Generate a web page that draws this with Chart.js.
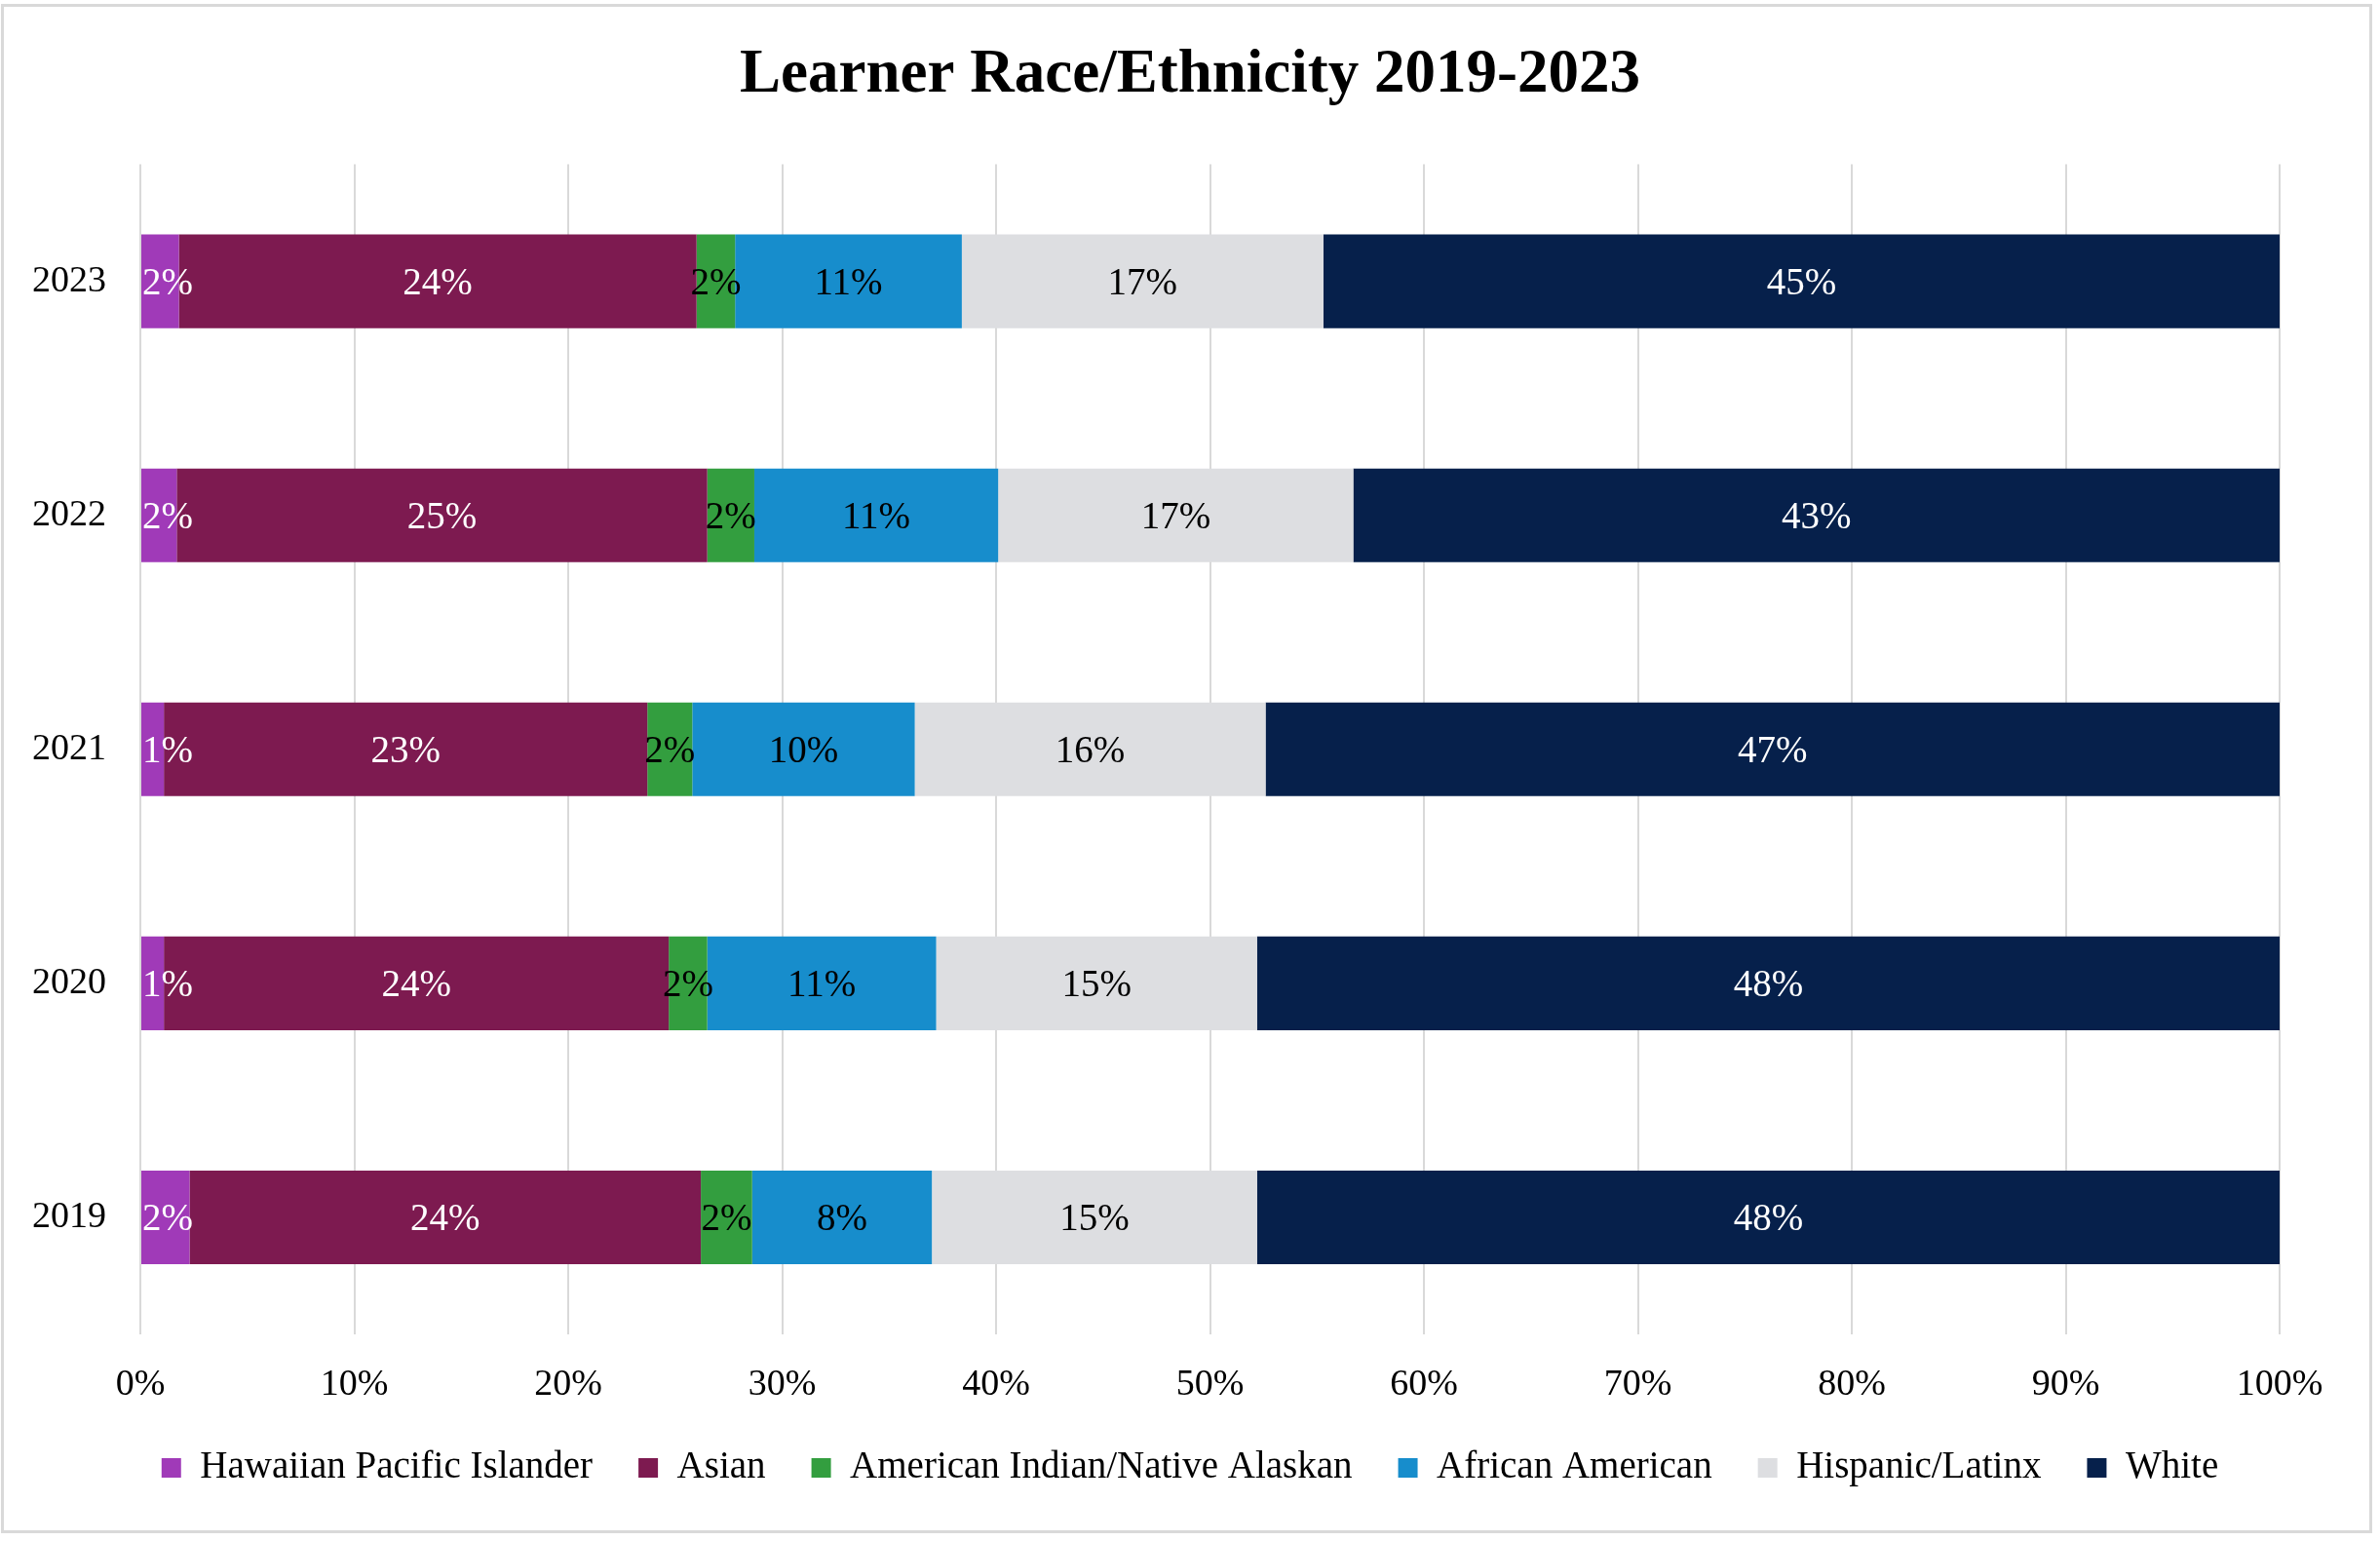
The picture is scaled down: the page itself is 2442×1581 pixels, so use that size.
<!DOCTYPE html>
<html>
<head>
<meta charset="utf-8">
<script src="https://cdn.jsdelivr.net/npm/chart.js@4/dist/chart.umd.min.js"></script>
<style>
  html, body { margin: 0; padding: 0; background: #ffffff; }
  #wrap { position: relative; width: 2442px; height: 1581px; }
  #frame { position: absolute; left: 1px; top: 4px; width: 2433px; height: 1569px; box-sizing: border-box; border: 3px solid #d9d9d9; pointer-events: none; }
</style>
</head>
<body>
<div id="wrap">
  <canvas id="c" width="2442" height="1581"></canvas>
  <div id="frame"></div>
</div>
<script>
const years = ['2023', '2022', '2021', '2020', '2019'];
const hawaiianPacificIslander = [1.8, 1.7, 1.1, 1.1, 2.3];
const asian = [24.2, 24.8, 22.6, 23.6, 23.9];
const americanIndian = [1.8, 2.2, 2.1, 1.8, 2.4];
const africanAmerican = [10.6, 11.4, 10.4, 10.7, 8.4];
const hispanicLatinx = [16.9, 16.6, 16.4, 15.0, 15.2];
const white = [44.7, 43.3, 47.4, 47.8, 47.8];
const xTicks = [0, 10, 20, 30, 40, 50, 60, 70, 80, 90, 100];

const seriesNames = ['Hawaiian Pacific Islander', 'Asian', 'American Indian/Native Alaskan', 'African American', 'Hispanic/Latinx', 'White'];
const seriesData = [hawaiianPacificIslander, asian, americanIndian, africanAmerican, hispanicLatinx, white];
const seriesColors = ['#a03ab8', '#7d1a50', '#339e3f', '#178dcc', '#dddee1', '#06204b'];
const labelColors = ['#ffffff', '#ffffff', '#000000', '#000000', '#000000', '#ffffff'];

const FONT = '"Liberation Serif", "Times New Roman", serif';

const barLabels = {
  id: 'barLabels',
  afterDatasetsDraw(chart) {
    const ctx = chart.ctx;
    const left = chart.chartArea.left;
    ctx.save();
    ctx.font = '39px ' + FONT;
    ctx.textAlign = 'center';
    ctx.textBaseline = 'middle';
    chart.data.datasets.forEach((ds, di) => {
      const meta = chart.getDatasetMeta(di);
      meta.data.forEach((el, i) => {
        const txt = Math.round(ds.data[i]) + '%';
        const w = ctx.measureText(txt).width;
        let cx = (el.x + el.base) / 2;
        cx = Math.max(cx, left + w / 2 + 2);
        ctx.fillStyle = labelColors[di];
        ctx.fillText(txt, cx, el.y + 3);
      });
    });
    ctx.restore();
  }
};

new Chart(document.getElementById('c'), {
  type: 'bar',
  data: {
    labels: years,
    datasets: seriesNames.map((n, i) => ({
      label: n,
      data: seriesData[i],
      backgroundColor: seriesColors[i],
      borderWidth: 0,
      categoryPercentage: 1,
      barPercentage: 0.4
    }))
  },
  options: {
    indexAxis: 'y',
    responsive: false,
    animation: false,
    devicePixelRatio: 1,
    layout: { padding: { left: 0, right: 0, top: 0, bottom: 45.5 } },
    scales: {
      x: {
        stacked: true,
        min: 0,
        max: 100,
        afterBuildTicks(scale) { scale.ticks = xTicks.map(v => ({ value: v })); },
        afterFit(scale) { scale.height = 70.5; },
        grid: { color: '#d9d9d9', lineWidth: 2, drawTicks: false },
        border: { display: false },
        ticks: { color: '#000', font: { family: FONT, size: 38 }, padding: 29, callback: v => v + '%' }
      },
      y: {
        stacked: true,
        afterFit(scale) { scale.width = 144; },
        grid: { display: false, drawTicks: false },
        border: { display: false },
        ticks: { color: '#000', font: { family: FONT, size: 38 }, padding: 35 }
      },
      yRightSpace: {
        type: 'category',
        labels: years,
        position: 'right',
        afterFit(scale) { scale.width = 103; },
        grid: { display: false, drawTicks: false },
        border: { display: false },
        ticks: { display: false }
      }
    },
    plugins: {
      title: {
        display: true,
        text: 'Learner Race/Ethnicity 2019-2023',
        color: '#000',
        font: { family: FONT, size: 63, weight: 'bold' },
        padding: { top: 40, bottom: 53 }
      },
      legend: {
        position: 'bottom',
        labels: {
          color: '#000',
          font: { family: FONT, size: 39 },
          boxWidth: 20,
          boxHeight: 20,
          padding: 47
        }
      },
      tooltip: { enabled: false }
    }
  },
  plugins: [barLabels]
});
</script>
</body>
</html>
